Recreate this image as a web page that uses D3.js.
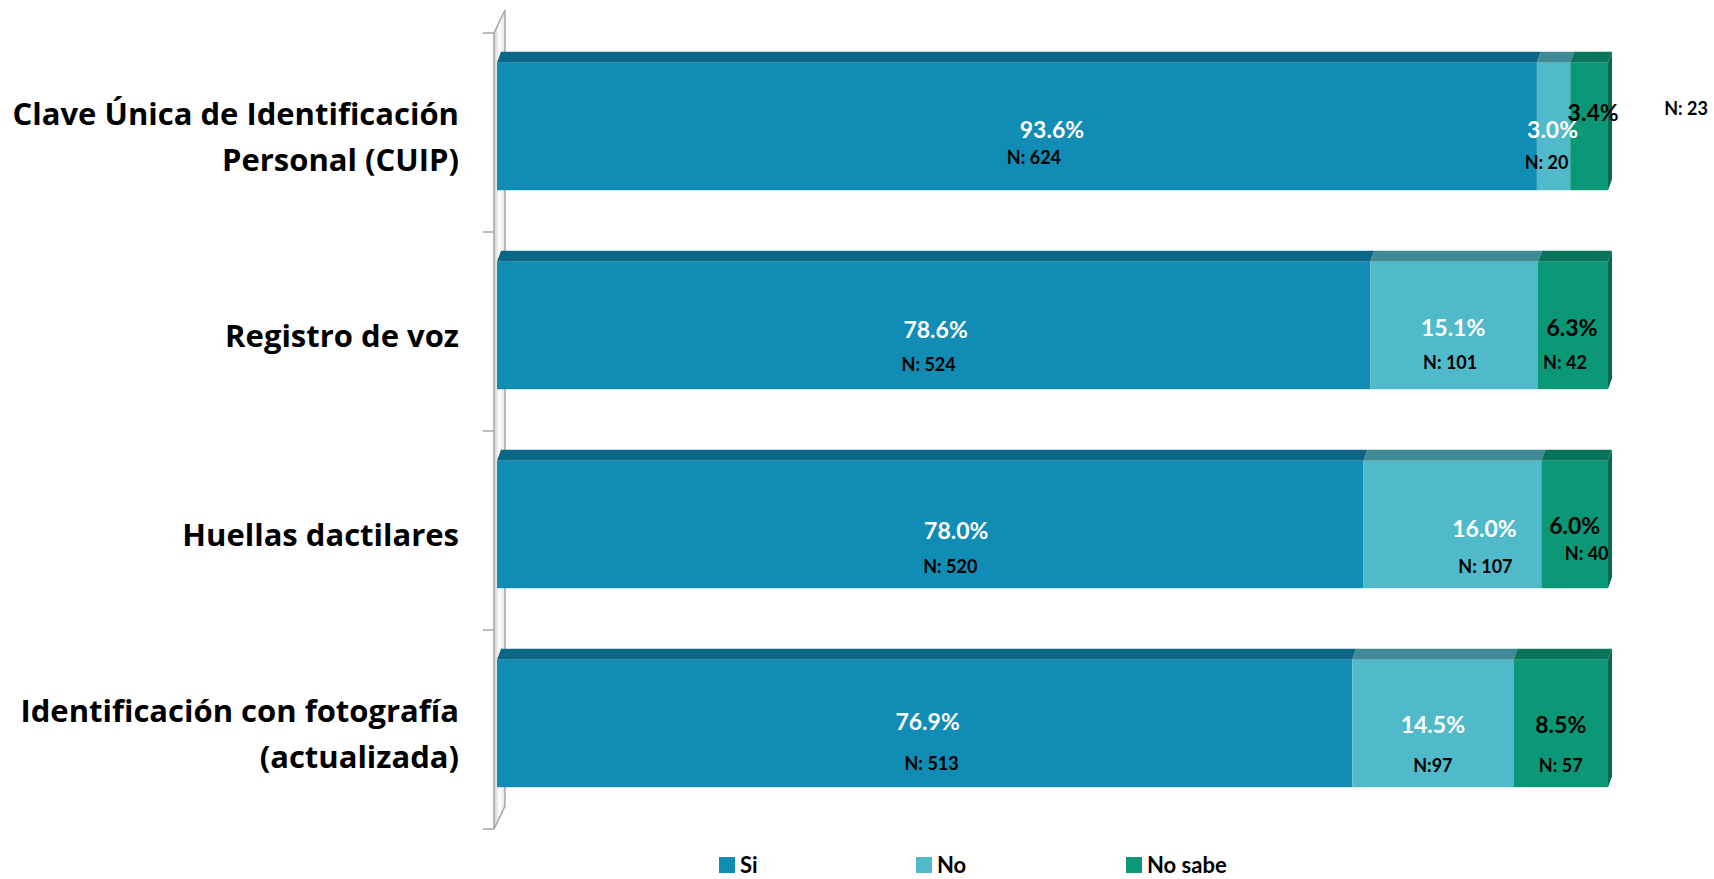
<!DOCTYPE html>
<html><head><meta charset="utf-8">
<script src="https://cdn.jsdelivr.net/npm/d3@7"></script>
<style>
html,body{margin:0;padding:0;background:#fff;}
svg{display:block;font-family:Lato,"Open Sans",sans-serif;}
</style></head>
<body>
<svg id="chart" width="1714" height="879"></svg>
<script>
// ---- data ----
const categories = [
  "Clave Única de Identificación\nPersonal (CUIP)",
  "Registro de voz",
  "Huellas dactilares",
  "Identificación con fotografía\n(actualizada)"
];
const seriesNames = ["Si", "No", "No sabe"];
const siValues = [93.6, 78.6, 78.0, 76.9];
const noValues = [3.0, 15.1, 16.0, 14.5];
const noSabeValues = [3.4, 6.3, 6.0, 8.5];
const siCounts = [624, 524, 520, 513];
const noCounts = [20, 101, 107, 97];
const noSabeCounts = [23, 42, 40, 57];

// ---- layout / style ----
const W = 1714, H = 879;
const frontColors = ["#108cb5", "#50b9ca", "#0a9877"];
const topColors = ["#0a6886", "#3f8a96", "#08755b"];
const sideColor = "#06694f";
const pctColors = ["#ffffff", "#ffffff", "#000000"];
const depthX = 4, depthY = 11;

// manual label nudges [dx, dy] keyed row-series-kind (as placed in original)
const nudge = {
  "0-0-p":[35,0], "0-0-n":[17,-7], "0-1-p":[-1,0], "0-1-n":[-7,-2],
  "0-2-p":[4,-17], "0-2-n":[97,-56],
  "1-0-p":[2,1], "1-0-n":[-5,1], "1-1-p":[-1,-1], "1-1-n":[-4,-1],
  "1-2-p":[-1,-1], "1-2-n":[-8,-1],
  "2-0-p":[26,3], "2-0-n":[20,4], "2-1-p":[32,1], "2-1-n":[33,4],
  "2-2-p":[0,-2], "2-2-n":[12,-9],
  "3-0-p":[3,-5], "3-0-n":[7,2], "3-1-p":[0,-2], "3-1-n":[0,4],
  "3-2-p":[0,-2], "3-2-n":[0,4]
};

const rows = categories.map((c, i) => ({
  cat: c, "Si": siValues[i], "No": noValues[i], "No sabe": noSabeValues[i],
  counts: [siCounts[i], noCounts[i], noSabeCounts[i]],
  pcts: [siValues[i], noValues[i], noSabeValues[i]]
}));

const stacked = d3.stack().keys(seriesNames).offset(d3.stackOffsetExpand)(rows);

const x = d3.scaleLinear().domain([0, 1]).range([497, 1608]);
const y = d3.scaleBand().domain(categories).range([33, 829]).padding(0);
const bw = y.bandwidth();
const barTop = c => y(c) + bw * 0.15;
const barH = bw * 0.64;

const svg = d3.select("#chart");

// ---- 3D wall (category axis) ----
const wallX0 = 494, wallX1 = 505, wallDY = 23;
const defs = svg.append("defs");
const grad = defs.append("linearGradient").attr("id", "wallGrad").attr("x1", "0").attr("x2", "1");
grad.append("stop").attr("offset", "0").attr("stop-color", "#d0d0d0");
grad.append("stop").attr("offset", "0.5").attr("stop-color", "#ffffff");
grad.append("stop").attr("offset", "1").attr("stop-color", "#e4e4e4");
const yTop = y.range()[0], yBot = y.range()[1];
svg.append("path")
  .attr("d", `M${wallX0},${yTop} L${wallX1},${yTop - wallDY} L${wallX1},${yBot - wallDY} L${wallX0},${yBot} Z`)
  .attr("fill", "url(#wallGrad)").attr("stroke", "#a6a6a6").attr("stroke-width", 1.5);
const tickYs = categories.map(c => y(c)).concat([yBot]);
svg.selectAll("line.tick").data(tickYs).enter().append("line")
  .attr("x1", 483).attr("x2", wallX0).attr("y1", d => d).attr("y2", d => d)
  .attr("stroke", "#a6a6a6").attr("stroke-width", 1.5);

// ---- bars ----
stacked.forEach((layer, s) => {
  const g = svg.append("g");
  layer.forEach((d, r) => {
    const c = d.data.cat;
    const x0 = x(d[0]), x1 = x(d[1]);
    const t = barTop(c);
    g.append("path")
      .attr("d", `M${x0},${t} L${x0 + depthX},${t - depthY} L${x1 + depthX},${t - depthY} L${x1},${t} Z`)
      .attr("fill", topColors[s]);
    g.append("rect").attr("x", x0).attr("y", t).attr("width", x1 - x0).attr("height", barH)
      .attr("fill", frontColors[s]);
    if (s === seriesNames.length - 1) {
      g.append("path")
        .attr("d", `M${x1},${t} L${x1 + depthX},${t - depthY} L${x1 + depthX},${t + barH - depthY} L${x1},${t + barH} Z`)
        .attr("fill", sideColor);
    }
  });
});

// ---- labels ----
stacked.forEach((layer, s) => {
  layer.forEach((d, r) => {
    const c = d.data.cat;
    const cx = (x(d[0]) + x(d[1])) / 2;
    const t = barTop(c);
    const np = nudge[`${r}-${s}-p`] || [0, 0];
    const nn = nudge[`${r}-${s}-n`] || [0, 0];
    svg.append("text")
      .attr("x", cx + np[0]).attr("y", t + 66 + np[1])
      .attr("text-anchor", "middle").attr("dominant-baseline", "central")
      .attr("font-size", 23).attr("font-weight", 700).attr("fill", pctColors[s])
      .text(d3.format(".1f")(d.data.pcts[s]) + "%");
    const prefix = (r === 3 && s === 1) ? "N:" : "N: ";
    svg.append("text")
      .attr("x", cx + nn[0]).attr("y", t + 101 + nn[1])
      .attr("text-anchor", "middle").attr("dominant-baseline", "central")
      .attr("font-size", 18).attr("font-weight", 700).attr("fill", "#000")
      .text(prefix + d.data.counts[s]);
  });
});

// ---- category labels ----
categories.forEach(c => {
  const lines = c.split("\n");
  const cy = y(c) + bw / 2 + 3;
  const lh = 46;
  lines.forEach((ln, i) => {
    svg.append("text")
      .attr("x", 459).attr("y", cy + (i - (lines.length - 1) / 2) * lh)
      .attr("text-anchor", "end").attr("dominant-baseline", "central")
      .attr("font-family", "'Open Sans', sans-serif")
      .attr("font-size", 31).attr("font-weight", 700).attr("fill", "#000")
      .text(ln);
  });
});

// ---- legend ----
const legendX = [719, 916, 1126];
const lg = svg.append("g");
seriesNames.forEach((n, i) => {
  lg.append("rect").attr("x", legendX[i]).attr("y", 857).attr("width", 16).attr("height", 16)
    .attr("fill", frontColors[i]);
  lg.append("text").attr("x", legendX[i] + 21).attr("y", 873)
    .attr("font-size", 22).attr("font-weight", 700).attr("fill", "#000").text(n);
});
</script>
</body></html>
